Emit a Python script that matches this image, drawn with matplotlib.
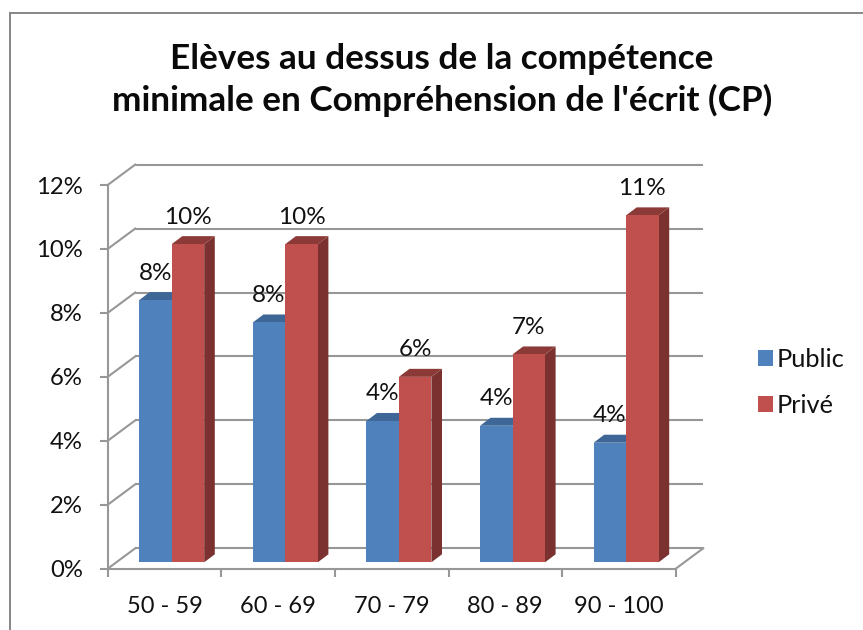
import matplotlib
matplotlib.use("Agg")
import matplotlib.pyplot as plt
from matplotlib.lines import Line2D
from matplotlib.patches import Polygon
from matplotlib.transforms import Affine2D, IdentityTransform

categories = ["50 - 59", "60 - 69", "70 - 79", "80 - 89", "90 - 100"]
public = [8.2, 7.5, 4.42, 4.27, 3.74]
prive = [9.95, 9.95, 5.8, 6.5, 10.85]
public_labels = ["8%", "8%", "4%", "4%", "4%"]
prive_labels = ["10%", "10%", "6%", "7%", "11%"]
yticks = [0, 2, 4, 6, 8, 10, 12]
title = "Elèves au dessus de la compétence\nminimale en Compréhension de l'écrit (CP)"

W, H = 863, 630
FONT = "Lato"
GRAY = "#979797"
plt.rcParams["font.family"] = [FONT, "DejaVu Sans"]
fig = plt.figure(figsize=(W / 100, H / 100), dpi=100, facecolor="white")
L, R, T, B = 107.7, 675.7, 185.0, 568.7
ax = fig.add_axes([L / W, 1 - B / H, (R - L) / W, (B - T) / H])
ax.set_xlim(0, 5)
ax.set_ylim(0, 12)
ax.patch.set_visible(False)
for s in ("top", "right"):
    ax.spines[s].set_visible(False)
for s in ("left", "bottom"):
    ax.spines[s].set_color(GRAY)
    ax.spines[s].set_linewidth(1.5)

ax.set_yticks(yticks)
ax.set_yticklabels([f"{v}%" for v in yticks], fontsize=17.2, color="#111111")
ax.set_xticks(range(6))
ax.set_xticklabels([])
ax.set_xticks([i + 0.5 for i in range(5)], minor=True)
ax.set_xticklabels(categories, minor=True, fontsize=17, color="#111111")
ax.tick_params(axis="y", length=6, width=1.5, color=GRAY, pad=12)
ax.tick_params(axis="x", which="major", length=6, width=1.5, color=GRAY)
ax.tick_params(axis="x", which="minor", length=0, pad=20)

# Wall, floor and depth strokes, in pixel offsets from the front plane
wall_dx, wall_dy = 27.5, 20.4
wall = ax.transData + Affine2D().translate(wall_dx, wall_dy)
ax.hlines(yticks, 0, 5, colors=GRAY, linewidth=1.5, transform=wall, clip_on=False, zorder=1)
to_px = ax.transData.transform
for v in yticks:
    x0, y0 = to_px((0, v))
    ax.add_line(Line2D([x0, x0 + wall_dx], [y0, y0 + wall_dy], color=GRAY, lw=1.5,
                       transform=IdentityTransform(), clip_on=False, zorder=1))
x0, y0 = to_px((5, 0))
ax.add_line(Line2D([x0, x0 + wall_dx], [y0, y0 + wall_dy], color=GRAY, lw=1.5,
                   transform=IdentityTransform(), clip_on=False, zorder=1))

# Bars: shifted from the front plane by a fixed pixel offset
bar_dx, bar_dy = 7.2, 6.4
side_dx, side_dy = 10.6, 8.0
bar_w = 32.5 / ((R - L) / 5)
shift = ax.transData + Affine2D().translate(bar_dx, bar_dy)
px = shift.transform


def draw_bar(pos, val, front, side, top, z):
    rect = ax.bar(pos, val, width=bar_w, align="edge", color=front, transform=shift,
                  zorder=z + 0.2, clip_on=False)
    (xa, y0), (xb, y1) = px((pos, 0)), px((pos + bar_w, val))
    ax.add_patch(Polygon([(xb, y0), (xb + side_dx, y0 + side_dy),
                          (xb + side_dx, y1 + side_dy), (xb, y1)],
                         closed=True, fc=side, ec="none", transform=IdentityTransform(),
                         zorder=z, clip_on=False))
    ax.add_patch(Polygon([(xa, y1), (xa + side_dx, y1 + side_dy),
                          (xb + side_dx, y1 + side_dy), (xb, y1)],
                         closed=True, fc=top, ec="none", transform=IdentityTransform(),
                         zorder=z, clip_on=False))
    return rect


handles = []
for i in range(5):
    z = 3 + i
    h1 = draw_bar(i + 0.5 - bar_w, public[i], "#4F81BD", "#39608F", "#3E6797", z)
    h2 = draw_bar(i + 0.5, prive[i], "#C0504D", "#7B3130", "#8C3A38", z + 0.4)
    handles = [h1, h2]
    for pos, val, lab in ((i + 0.5 - bar_w / 2, public[i], public_labels[i]),
                          (i + 0.5 + bar_w / 2, prive[i], prive_labels[i])):
        xp, yp = px((pos, val))
        ax.text(xp, yp + 27, lab, transform=IdentityTransform(), ha="center", va="center",
                fontsize=17.5, color="#111111", zorder=20)

ax.legend(handles, ["Public", "Privé"], loc="upper left", frameon=False,
          bbox_to_anchor=(738 / W, 1 - 328 / H), bbox_transform=fig.transFigure,
          fontsize=18.3, handlelength=0.58, handleheight=0.58, handletextpad=0.15,
          labelspacing=0.88, borderpad=0.3, labelcolor="#111111")

fig.text(442 / W, 1 - 80 / H, title, ha="center", va="center", fontsize=25.3,
         fontweight="bold", color="#0a0a0a", linespacing=1.3)

# Chart frame
for xs, ys in (([9.5, 9.5], [630, 12.5]), ([9.5, 863], [12.5, 12.5])):
    fig.add_artist(Line2D([x / W for x in xs], [1 - y / H for y in ys], color="#868686", lw=1.4))

fig.savefig("out.png", dpi=100)
